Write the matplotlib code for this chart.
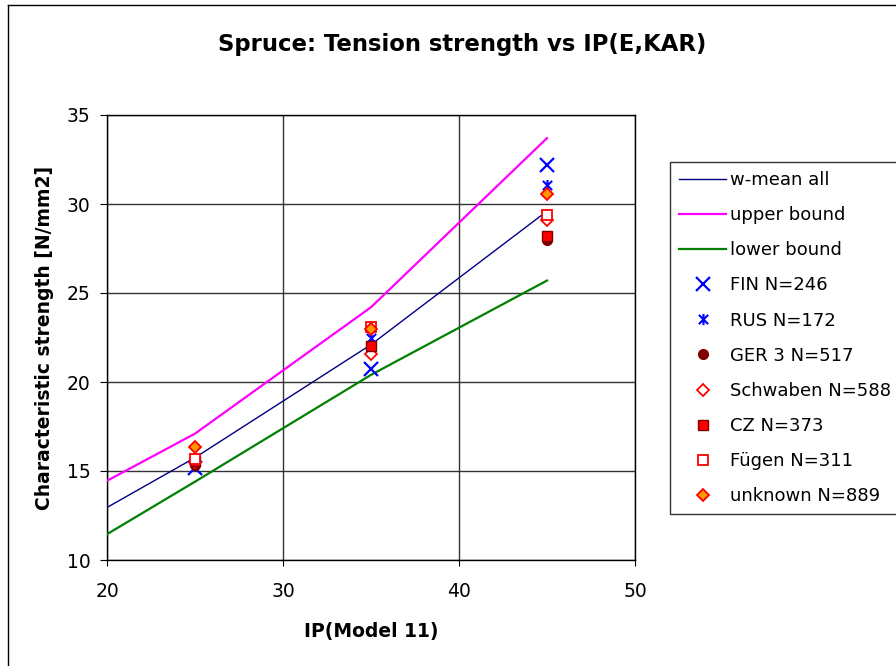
import matplotlib
matplotlib.use("Agg")
import matplotlib.pyplot as plt
from matplotlib.path import Path
from matplotlib.lines import Line2D

# IP values along the fitted curves and at the measured groups
ip_line = [20, 25, 35, 45]
w_mean = [12.95, 15.75, 22.1, 29.6]
upper_bound = [14.45, 17.1, 24.2, 33.7]
lower_bound = [11.45, 14.4, 20.4, 25.7]

ip_points = [25, 35, 45]
fin = [15.15, 20.75, 32.2]
rus = [15.6, 22.5, 31.05]
ger3 = [15.35, 22.0, 28.0]
schwaben = [15.5, 21.55, 29.1]
cz = [15.55, 22.0, 28.2]
fuegen = [15.65, 23.1, 29.4]
unknown = [16.35, 22.95, 30.55]

x_ticks = [20, 30, 40, 50]
y_ticks = [10, 15, 20, 25, 30, 35]

plt.rcParams["font.family"] = ["DejaVu Sans"]

W, H = 896, 666
fig = plt.figure(figsize=(W / 100, H / 100), dpi=100)
ax = fig.add_axes([107 / W, 1 - 560 / H, 528 / W, 445 / H])

# asterisk marker: an x crossed by a vertical bar
star_verts = [(-1, -1), (1, 1), (-1, 1), (1, -1), (0, -1.2), (0, 1.2)]
star_codes = [Path.MOVETO, Path.LINETO] * 3
star_marker = Path(star_verts, star_codes)

ax.plot(ip_line, w_mean, color="#000080", lw=1.0, label="w-mean all", zorder=3)
ax.plot(ip_line, upper_bound, color="#FF00FF", lw=1.6, label="upper bound", zorder=3)
ax.plot(ip_line, lower_bound, color="#008000", lw=1.6, label="lower bound", zorder=3)

ax.plot(ip_points, fin, ls="none", marker="x", ms=9.5, mew=1.6, color="#0000FF",
        label="FIN N=246", zorder=4)
ax.plot(ip_points, rus, ls="none", marker=star_marker, ms=8, mew=1.5, color="#0000FF",
        label="RUS N=172", zorder=5)
ax.plot(ip_points, ger3, ls="none", marker="o", ms=7, mfc="#800000", mec="#800000",
        label="GER 3 N=517", zorder=6)
ax.plot(ip_points, schwaben, ls="none", marker="D", ms=6, mfc="white", mec="#FF0000",
        mew=1.3, label="Schwaben N=588", zorder=7)
ax.plot(ip_points, cz, ls="none", marker="s", ms=7.5, mfc="#FF0000", mec="#800000",
        mew=1.0, label="CZ N=373", zorder=8)
ax.plot(ip_points, fuegen, ls="none", marker="s", ms=7, mfc="white", mec="#FF0000",
        mew=1.3, label="Fügen N=311", zorder=9)
ax.plot(ip_points, unknown, ls="none", marker="D", ms=6, mfc="#FF9900", mec="#FF0000",
        mew=1.3, label="unknown N=889", zorder=10)

ax.set_xlim(20, 50)
ax.set_ylim(10, 35)
ax.set_xticks(x_ticks)
ax.set_yticks(y_ticks)
ax.grid(True, color="#333333", lw=1.0, zorder=1)
ax.set_axisbelow(True)
for s in ax.spines.values():
    s.set_color("black")
    s.set_linewidth(1.0)
ax.tick_params(axis="x", direction="out", length=4, pad=12, labelsize=13.5, colors="black")
ax.tick_params(axis="y", direction="out", length=5, pad=7, labelsize=13.5, colors="black")

ax.set_xlabel("IP(Model 11)", fontsize=13.5, fontweight="bold", labelpad=15)
ax.set_ylabel("Characteristic strength [N/mm2]", fontsize=13.5, fontweight="bold", labelpad=9)

fig.text(462 / W, 1 - 45 / H, "Spruce: Tension strength vs IP(E,KAR)",
         ha="center", va="center", fontsize=16.4, fontweight="bold")

leg = fig.legend(loc="upper left", bbox_to_anchor=(670 / W, 1 - 162 / H),
                 bbox_transform=fig.transFigure, borderaxespad=0, fontsize=13,
                 frameon=True, fancybox=False, edgecolor="black", numpoints=1,
                 handlelength=2.6, handletextpad=0.25, labelspacing=0.95,
                 borderpad=0.5)
leg.get_frame().set_linewidth(1.0)

# chart-area frame
fig.add_artist(Line2D([8 / W, 8 / W], [0, 1 - 5 / H], transform=fig.transFigure,
                      color="black", lw=1.0))
fig.add_artist(Line2D([8 / W, 1], [1 - 5 / H, 1 - 5 / H], transform=fig.transFigure,
                      color="black", lw=1.0))

fig.savefig("out.png", dpi=100)
